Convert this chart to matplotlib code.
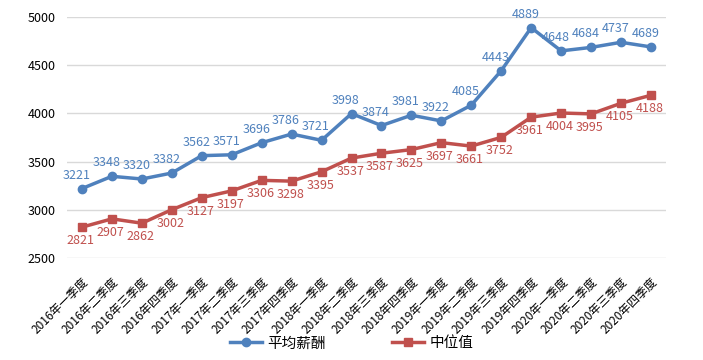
import matplotlib
matplotlib.use("Agg")
import matplotlib.pyplot as plt

plt.rcParams['font.family'] = ['Noto Sans CJK SC', 'DejaVu Sans']

# quarters and the two salary series
quarters = [
    "2016年一季度", "2016年二季度", "2016年三季度", "2016年四季度",
    "2017年一季度", "2017年二季度", "2017年三季度", "2017年四季度",
    "2018年一季度", "2018年二季度", "2018年三季度", "2018年四季度",
    "2019年一季度", "2019年二季度", "2019年三季度", "2019年四季度",
    "2020年一季度", "2020年二季度", "2020年三季度", "2020年四季度",
]
avg_pay = [3221, 3348, 3320, 3382, 3562, 3571, 3696, 3786, 3721, 3998,
           3874, 3981, 3922, 4085, 4443, 4889, 4648, 4684, 4737, 4689]
median_pay = [2821, 2907, 2862, 3002, 3127, 3197, 3306, 3298, 3395, 3537,
              3587, 3625, 3697, 3661, 3752, 3961, 4004, 3995, 4105, 4188]
yticks = [2500, 3000, 3500, 4000, 4500, 5000]

BLUE = '#4F81BD'
RED = '#C0504D'

fig = plt.figure(figsize=(7.03, 3.6), dpi=100)
ax = fig.add_axes([0.0953, 0.283, 0.852, 0.670])

x = list(range(len(quarters)))
ax.plot(x, avg_pay, color=BLUE, lw=2.5, marker='o', ms=6, label='平均薪酬')
ax.plot(x, median_pay, color=RED, lw=2.5, marker='s', ms=5.5, label='中位值')

for i, v in enumerate(avg_pay):
    ax.annotate(str(v), (i, v), xytext=(-4, 5), textcoords='offset points',
                ha='center', va='bottom', color=BLUE, fontsize=9, clip_on=False)
for i, v in enumerate(median_pay):
    ax.annotate(str(v), (i, v), xytext=(-1, -5), textcoords='offset points',
                ha='center', va='top', color=RED, fontsize=9, clip_on=False)

ax.set_xlim(-0.5, len(quarters) - 0.5)
ax.set_ylim(2500, 5000)
ax.set_yticks(yticks)
ax.set_yticklabels([str(t) for t in yticks], fontsize=9)
ax.set_xticks(x)
ax.set_xticklabels(quarters, rotation=45, ha='right', va='top',
                   rotation_mode='anchor', fontsize=8.5)
ax.tick_params(length=0)
ax.tick_params(axis='x', pad=12)
ax.tick_params(axis='y', pad=8)
ax.grid(axis='y', color='#D9D9D9', lw=1)
ax.set_axisbelow(True)
for s in ax.spines.values():
    s.set_visible(False)

fig.legend(loc='lower center', bbox_to_anchor=(0.5, -0.01), ncol=2,
           frameon=False, fontsize=10.5, handlelength=2.2, columnspacing=4.5,
           handletextpad=0.4)

fig.savefig('out.png', dpi=100)
